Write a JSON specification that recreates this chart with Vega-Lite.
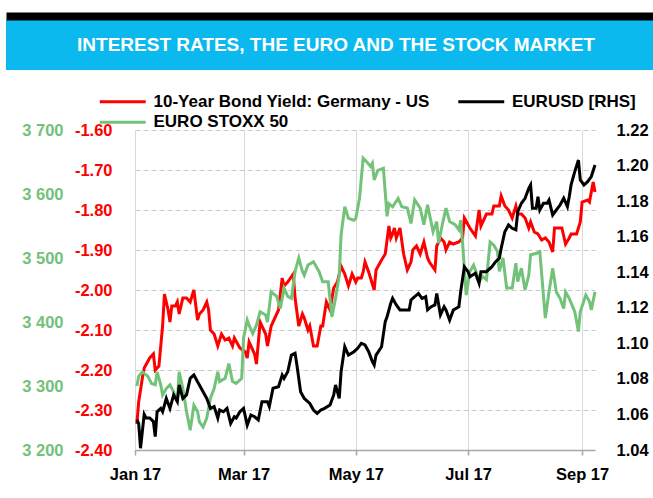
{
  "$schema": "https://vega.github.io/schema/vega-lite/v6.json",
  "padding": {"left": 6, "top": 16, "right": 0, "bottom": 0},
  "background": "white",
  "config": {
    "font": "Liberation Sans",
    "view": {"stroke": null}
  },
  "datasets": {
    "bund": [
      {"date": "2017/01/02", "value": -2.335}, {"date": "2017/01/03", "value": -2.28}, {"date": "2017/01/05", "value": -2.22}, {"date": "2017/01/06", "value": -2.195},
      {"date": "2017/01/09", "value": -2.17}, {"date": "2017/01/11", "value": -2.16}, {"date": "2017/01/12", "value": -2.2}, {"date": "2017/01/14", "value": -2.19},
      {"date": "2017/01/16", "value": -2.09}, {"date": "2017/01/17", "value": -2.01}, {"date": "2017/01/19", "value": -2.05}, {"date": "2017/01/20", "value": -2.08},
      {"date": "2017/01/21", "value": -2.04}, {"date": "2017/01/23", "value": -2.04}, {"date": "2017/01/24", "value": -2.03}, {"date": "2017/01/25", "value": -2.06},
      {"date": "2017/01/27", "value": -2.02}, {"date": "2017/01/29", "value": -2.02}, {"date": "2017/01/31", "value": -2.03}, {"date": "2017/02/02", "value": -2.0},
      {"date": "2017/02/04", "value": -2.075}, {"date": "2017/02/05", "value": -2.06}, {"date": "2017/02/07", "value": -2.05}, {"date": "2017/02/09", "value": -2.03},
      {"date": "2017/02/10", "value": -2.05}, {"date": "2017/02/11", "value": -2.1}, {"date": "2017/02/13", "value": -2.11}, {"date": "2017/02/15", "value": -2.14},
      {"date": "2017/02/17", "value": -2.11}, {"date": "2017/02/19", "value": -2.125}, {"date": "2017/02/21", "value": -2.12}, {"date": "2017/02/23", "value": -2.14},
      {"date": "2017/02/24", "value": -2.12}, {"date": "2017/02/27", "value": -2.145}, {"date": "2017/03/02", "value": -2.155}, {"date": "2017/03/03", "value": -2.17},
      {"date": "2017/03/04", "value": -2.13}, {"date": "2017/03/05", "value": -2.14}, {"date": "2017/03/07", "value": -2.16}, {"date": "2017/03/08", "value": -2.185},
      {"date": "2017/03/10", "value": -2.08}, {"date": "2017/03/13", "value": -2.11}, {"date": "2017/03/14", "value": -2.14}, {"date": "2017/03/16", "value": -2.09},
      {"date": "2017/03/18", "value": -2.07}, {"date": "2017/03/20", "value": -2.05}, {"date": "2017/03/22", "value": -1.97}, {"date": "2017/03/23", "value": -1.99},
      {"date": "2017/03/25", "value": -1.98}, {"date": "2017/03/28", "value": -1.96}, {"date": "2017/03/29", "value": -2.02}, {"date": "2017/03/31", "value": -2.09},
      {"date": "2017/04/02", "value": -2.06}, {"date": "2017/04/03", "value": -2.07}, {"date": "2017/04/05", "value": -2.1}, {"date": "2017/04/06", "value": -2.09},
      {"date": "2017/04/08", "value": -2.14}, {"date": "2017/04/10", "value": -2.14}, {"date": "2017/04/12", "value": -2.09}, {"date": "2017/04/13", "value": -2.09},
      {"date": "2017/04/15", "value": -2.03}, {"date": "2017/04/17", "value": -2.05}, {"date": "2017/04/19", "value": -1.995}, {"date": "2017/04/21", "value": -1.98},
      {"date": "2017/04/23", "value": -1.94}, {"date": "2017/04/25", "value": -1.96}, {"date": "2017/04/27", "value": -1.99}, {"date": "2017/04/29", "value": -1.96},
      {"date": "2017/05/01", "value": -1.98}, {"date": "2017/05/02", "value": -1.97}, {"date": "2017/05/04", "value": -1.97}, {"date": "2017/05/05", "value": -1.955},
      {"date": "2017/05/06", "value": -1.93}, {"date": "2017/05/08", "value": -1.955}, {"date": "2017/05/09", "value": -1.97}, {"date": "2017/05/11", "value": -2.0},
      {"date": "2017/05/12", "value": -1.95}, {"date": "2017/05/15", "value": -1.925}, {"date": "2017/05/17", "value": -1.91}, {"date": "2017/05/19", "value": -1.84},
      {"date": "2017/05/20", "value": -1.87}, {"date": "2017/05/21", "value": -1.86}, {"date": "2017/05/22", "value": -1.845}, {"date": "2017/05/23", "value": -1.87},
      {"date": "2017/05/25", "value": -1.845}, {"date": "2017/05/27", "value": -1.91}, {"date": "2017/05/29", "value": -1.95}, {"date": "2017/05/31", "value": -1.93},
      {"date": "2017/06/01", "value": -1.9}, {"date": "2017/06/03", "value": -1.89}, {"date": "2017/06/05", "value": -1.91}, {"date": "2017/06/07", "value": -1.88},
      {"date": "2017/06/09", "value": -1.92}, {"date": "2017/06/10", "value": -1.93}, {"date": "2017/06/13", "value": -1.95}, {"date": "2017/06/14", "value": -1.89},
      {"date": "2017/06/16", "value": -1.87}, {"date": "2017/06/18", "value": -1.88}, {"date": "2017/06/19", "value": -1.9}, {"date": "2017/06/21", "value": -1.88},
      {"date": "2017/06/23", "value": -1.885}, {"date": "2017/06/26", "value": -1.88}, {"date": "2017/06/28", "value": -1.87}, {"date": "2017/06/29", "value": -1.82},
      {"date": "2017/07/02", "value": -1.845}, {"date": "2017/07/05", "value": -1.865}, {"date": "2017/07/07", "value": -1.8}, {"date": "2017/07/08", "value": -1.84},
      {"date": "2017/07/11", "value": -1.81}, {"date": "2017/07/14", "value": -1.81}, {"date": "2017/07/15", "value": -1.79}, {"date": "2017/07/18", "value": -1.79},
      {"date": "2017/07/19", "value": -1.765}, {"date": "2017/07/21", "value": -1.79}, {"date": "2017/07/23", "value": -1.8}, {"date": "2017/07/25", "value": -1.82},
      {"date": "2017/07/27", "value": -1.79}, {"date": "2017/07/28", "value": -1.81}, {"date": "2017/07/30", "value": -1.81}, {"date": "2017/08/01", "value": -1.82},
      {"date": "2017/08/03", "value": -1.845}, {"date": "2017/08/04", "value": -1.83}, {"date": "2017/08/06", "value": -1.855}, {"date": "2017/08/08", "value": -1.86},
      {"date": "2017/08/10", "value": -1.875}, {"date": "2017/08/12", "value": -1.87}, {"date": "2017/08/14", "value": -1.88}, {"date": "2017/08/16", "value": -1.905},
      {"date": "2017/08/17", "value": -1.845}, {"date": "2017/08/19", "value": -1.845}, {"date": "2017/08/21", "value": -1.845}, {"date": "2017/08/23", "value": -1.885},
      {"date": "2017/08/25", "value": -1.87}, {"date": "2017/08/26", "value": -1.86}, {"date": "2017/08/29", "value": -1.86}, {"date": "2017/08/31", "value": -1.83},
      {"date": "2017/09/01", "value": -1.78}, {"date": "2017/09/04", "value": -1.775}, {"date": "2017/09/05", "value": -1.78}, {"date": "2017/09/07", "value": -1.73},
      {"date": "2017/09/08", "value": -1.755}
    ],
    "eurusd": [
      {"date": "2017/01/02", "value": 1.057}, {"date": "2017/01/03", "value": 1.055}, {"date": "2017/01/04", "value": 1.041}, {"date": "2017/01/06", "value": 1.06},
      {"date": "2017/01/07", "value": 1.058}, {"date": "2017/01/09", "value": 1.058}, {"date": "2017/01/11", "value": 1.056}, {"date": "2017/01/12", "value": 1.0475},
      {"date": "2017/01/13", "value": 1.0615}, {"date": "2017/01/15", "value": 1.0634}, {"date": "2017/01/16", "value": 1.0615}, {"date": "2017/01/18", "value": 1.069},
      {"date": "2017/01/20", "value": 1.0634}, {"date": "2017/01/22", "value": 1.071}, {"date": "2017/01/24", "value": 1.0672}, {"date": "2017/01/25", "value": 1.0766},
      {"date": "2017/01/27", "value": 1.069}, {"date": "2017/01/29", "value": 1.071}, {"date": "2017/01/31", "value": 1.0803}, {"date": "2017/02/02", "value": 1.0822},
      {"date": "2017/02/04", "value": 1.0784}, {"date": "2017/02/05", "value": 1.0766}, {"date": "2017/02/07", "value": 1.0728}, {"date": "2017/02/09", "value": 1.069},
      {"date": "2017/02/11", "value": 1.0634}, {"date": "2017/02/13", "value": 1.0644}, {"date": "2017/02/15", "value": 1.058}, {"date": "2017/02/16", "value": 1.0625},
      {"date": "2017/02/18", "value": 1.0615}, {"date": "2017/02/20", "value": 1.0634}, {"date": "2017/02/22", "value": 1.055}, {"date": "2017/02/24", "value": 1.0587},
      {"date": "2017/02/25", "value": 1.058}, {"date": "2017/02/27", "value": 1.0615}, {"date": "2017/03/01", "value": 1.0634}, {"date": "2017/03/03", "value": 1.054},
      {"date": "2017/03/05", "value": 1.0597}, {"date": "2017/03/07", "value": 1.0587}, {"date": "2017/03/09", "value": 1.0569}, {"date": "2017/03/11", "value": 1.0672},
      {"date": "2017/03/14", "value": 1.0672}, {"date": "2017/03/15", "value": 1.0644}, {"date": "2017/03/17", "value": 1.0747}, {"date": "2017/03/20", "value": 1.0756},
      {"date": "2017/03/22", "value": 1.0822}, {"date": "2017/03/23", "value": 1.0803}, {"date": "2017/03/25", "value": 1.084}, {"date": "2017/03/27", "value": 1.0934},
      {"date": "2017/03/29", "value": 1.0944}, {"date": "2017/03/30", "value": 1.0878}, {"date": "2017/04/01", "value": 1.0728}, {"date": "2017/04/03", "value": 1.069},
      {"date": "2017/04/04", "value": 1.0681}, {"date": "2017/04/06", "value": 1.0662}, {"date": "2017/04/08", "value": 1.0625}, {"date": "2017/04/10", "value": 1.0606},
      {"date": "2017/04/12", "value": 1.0625}, {"date": "2017/04/14", "value": 1.0634}, {"date": "2017/04/17", "value": 1.0653}, {"date": "2017/04/19", "value": 1.071},
      {"date": "2017/04/20", "value": 1.0766}, {"date": "2017/04/22", "value": 1.069}, {"date": "2017/04/23", "value": 1.084}, {"date": "2017/04/25", "value": 1.0981},
      {"date": "2017/04/27", "value": 1.0934}, {"date": "2017/04/30", "value": 1.0953}, {"date": "2017/05/02", "value": 1.0972}, {"date": "2017/05/04", "value": 1.1},
      {"date": "2017/05/06", "value": 1.0991}, {"date": "2017/05/08", "value": 1.0953}, {"date": "2017/05/10", "value": 1.0897}, {"date": "2017/05/11", "value": 1.0878},
      {"date": "2017/05/12", "value": 1.0934}, {"date": "2017/05/15", "value": 1.0981}, {"date": "2017/05/17", "value": 1.1122}, {"date": "2017/05/18", "value": 1.115},
      {"date": "2017/05/20", "value": 1.1225}, {"date": "2017/05/21", "value": 1.1253}, {"date": "2017/05/23", "value": 1.1216}, {"date": "2017/05/25", "value": 1.1188},
      {"date": "2017/05/27", "value": 1.1188}, {"date": "2017/05/30", "value": 1.1188}, {"date": "2017/05/31", "value": 1.1244}, {"date": "2017/06/02", "value": 1.1262},
      {"date": "2017/06/04", "value": 1.1281}, {"date": "2017/06/06", "value": 1.1253}, {"date": "2017/06/08", "value": 1.1262}, {"date": "2017/06/09", "value": 1.1188},
      {"date": "2017/06/11", "value": 1.1206}, {"date": "2017/06/13", "value": 1.1216}, {"date": "2017/06/14", "value": 1.1281}, {"date": "2017/06/16", "value": 1.116},
      {"date": "2017/06/18", "value": 1.1206}, {"date": "2017/06/19", "value": 1.1188}, {"date": "2017/06/21", "value": 1.1131}, {"date": "2017/06/23", "value": 1.1188},
      {"date": "2017/06/26", "value": 1.1206}, {"date": "2017/06/27", "value": 1.129}, {"date": "2017/06/29", "value": 1.1431}, {"date": "2017/07/01", "value": 1.1403},
      {"date": "2017/07/02", "value": 1.1375}, {"date": "2017/07/05", "value": 1.1394}, {"date": "2017/07/07", "value": 1.1338}, {"date": "2017/07/08", "value": 1.1403},
      {"date": "2017/07/11", "value": 1.1403}, {"date": "2017/07/14", "value": 1.1431}, {"date": "2017/07/16", "value": 1.1459}, {"date": "2017/07/18", "value": 1.1478},
      {"date": "2017/07/19", "value": 1.1534}, {"date": "2017/07/21", "value": 1.1628}, {"date": "2017/07/23", "value": 1.1666}, {"date": "2017/07/25", "value": 1.1647},
      {"date": "2017/07/27", "value": 1.1638}, {"date": "2017/07/28", "value": 1.174}, {"date": "2017/07/30", "value": 1.1788}, {"date": "2017/08/01", "value": 1.1816},
      {"date": "2017/08/03", "value": 1.1872}, {"date": "2017/08/04", "value": 1.1891}, {"date": "2017/08/05", "value": 1.176}, {"date": "2017/08/07", "value": 1.176},
      {"date": "2017/08/08", "value": 1.1825}, {"date": "2017/08/09", "value": 1.175}, {"date": "2017/08/11", "value": 1.1788}, {"date": "2017/08/13", "value": 1.1788},
      {"date": "2017/08/14", "value": 1.1806}, {"date": "2017/08/16", "value": 1.1722}, {"date": "2017/08/18", "value": 1.175}, {"date": "2017/08/20", "value": 1.1778},
      {"date": "2017/08/22", "value": 1.1816}, {"date": "2017/08/24", "value": 1.1769}, {"date": "2017/08/25", "value": 1.1825}, {"date": "2017/08/26", "value": 1.1891},
      {"date": "2017/08/28", "value": 1.1966}, {"date": "2017/08/30", "value": 1.2031}, {"date": "2017/08/31", "value": 1.1919}, {"date": "2017/09/02", "value": 1.1891},
      {"date": "2017/09/04", "value": 1.1909}, {"date": "2017/09/06", "value": 1.1938}, {"date": "2017/09/08", "value": 1.2003}
    ],
    "stoxx": [
      {"date": "2017/01/02", "value": 3300}, {"date": "2017/01/03", "value": 3315}, {"date": "2017/01/05", "value": 3322}, {"date": "2017/01/08", "value": 3315},
      {"date": "2017/01/10", "value": 3304}, {"date": "2017/01/12", "value": 3302}, {"date": "2017/01/13", "value": 3322}, {"date": "2017/01/15", "value": 3302},
      {"date": "2017/01/16", "value": 3286}, {"date": "2017/01/18", "value": 3296}, {"date": "2017/01/20", "value": 3302}, {"date": "2017/01/22", "value": 3291},
      {"date": "2017/01/24", "value": 3275}, {"date": "2017/01/25", "value": 3322}, {"date": "2017/01/27", "value": 3296}, {"date": "2017/01/29", "value": 3260},
      {"date": "2017/01/31", "value": 3231}, {"date": "2017/02/02", "value": 3270}, {"date": "2017/02/04", "value": 3260}, {"date": "2017/02/05", "value": 3244},
      {"date": "2017/02/07", "value": 3236}, {"date": "2017/02/09", "value": 3250}, {"date": "2017/02/11", "value": 3281}, {"date": "2017/02/13", "value": 3296},
      {"date": "2017/02/15", "value": 3322}, {"date": "2017/02/16", "value": 3307}, {"date": "2017/02/19", "value": 3312}, {"date": "2017/02/21", "value": 3335},
      {"date": "2017/02/23", "value": 3307}, {"date": "2017/02/25", "value": 3304}, {"date": "2017/02/28", "value": 3312}, {"date": "2017/03/01", "value": 3375},
      {"date": "2017/03/03", "value": 3403}, {"date": "2017/03/04", "value": 3395}, {"date": "2017/03/06", "value": 3382}, {"date": "2017/03/08", "value": 3395},
      {"date": "2017/03/10", "value": 3416}, {"date": "2017/03/13", "value": 3411}, {"date": "2017/03/14", "value": 3400}, {"date": "2017/03/16", "value": 3447},
      {"date": "2017/03/19", "value": 3440}, {"date": "2017/03/21", "value": 3421}, {"date": "2017/03/23", "value": 3453}, {"date": "2017/03/25", "value": 3440},
      {"date": "2017/03/27", "value": 3437}, {"date": "2017/03/29", "value": 3479}, {"date": "2017/03/31", "value": 3500}, {"date": "2017/04/02", "value": 3479},
      {"date": "2017/04/03", "value": 3473}, {"date": "2017/04/05", "value": 3489}, {"date": "2017/04/08", "value": 3494}, {"date": "2017/04/11", "value": 3479},
      {"date": "2017/04/13", "value": 3463}, {"date": "2017/04/16", "value": 3463}, {"date": "2017/04/18", "value": 3408}, {"date": "2017/04/20", "value": 3437},
      {"date": "2017/04/22", "value": 3473}, {"date": "2017/04/23", "value": 3536}, {"date": "2017/04/25", "value": 3580}, {"date": "2017/04/27", "value": 3562},
      {"date": "2017/04/30", "value": 3559}, {"date": "2017/05/01", "value": 3562}, {"date": "2017/05/03", "value": 3593}, {"date": "2017/05/05", "value": 3656},
      {"date": "2017/05/07", "value": 3650}, {"date": "2017/05/09", "value": 3643}, {"date": "2017/05/10", "value": 3648}, {"date": "2017/05/11", "value": 3622},
      {"date": "2017/05/13", "value": 3637}, {"date": "2017/05/16", "value": 3640}, {"date": "2017/05/18", "value": 3565}, {"date": "2017/05/19", "value": 3585},
      {"date": "2017/05/21", "value": 3580}, {"date": "2017/05/24", "value": 3593}, {"date": "2017/05/26", "value": 3580}, {"date": "2017/05/29", "value": 3578},
      {"date": "2017/05/31", "value": 3554}, {"date": "2017/06/02", "value": 3591}, {"date": "2017/06/05", "value": 3578}, {"date": "2017/06/07", "value": 3552},
      {"date": "2017/06/09", "value": 3583}, {"date": "2017/06/12", "value": 3541}, {"date": "2017/06/14", "value": 3557}, {"date": "2017/06/15", "value": 3523},
      {"date": "2017/06/17", "value": 3552}, {"date": "2017/06/19", "value": 3578}, {"date": "2017/06/21", "value": 3557}, {"date": "2017/06/24", "value": 3552},
      {"date": "2017/06/26", "value": 3544}, {"date": "2017/06/27", "value": 3559}, {"date": "2017/06/28", "value": 3525}, {"date": "2017/06/30", "value": 3442},
      {"date": "2017/07/02", "value": 3479}, {"date": "2017/07/04", "value": 3489}, {"date": "2017/07/06", "value": 3473}, {"date": "2017/07/07", "value": 3463},
      {"date": "2017/07/09", "value": 3471}, {"date": "2017/07/11", "value": 3466}, {"date": "2017/07/13", "value": 3525}, {"date": "2017/07/15", "value": 3520},
      {"date": "2017/07/17", "value": 3510}, {"date": "2017/07/18", "value": 3479}, {"date": "2017/07/20", "value": 3500}, {"date": "2017/07/22", "value": 3453},
      {"date": "2017/07/25", "value": 3453}, {"date": "2017/07/27", "value": 3492}, {"date": "2017/07/28", "value": 3463}, {"date": "2017/07/30", "value": 3484},
      {"date": "2017/08/01", "value": 3450}, {"date": "2017/08/03", "value": 3473}, {"date": "2017/08/04", "value": 3505}, {"date": "2017/08/07", "value": 3507},
      {"date": "2017/08/09", "value": 3510}, {"date": "2017/08/12", "value": 3406}, {"date": "2017/08/14", "value": 3447}, {"date": "2017/08/16", "value": 3484},
      {"date": "2017/08/18", "value": 3447}, {"date": "2017/08/20", "value": 3437}, {"date": "2017/08/22", "value": 3421}, {"date": "2017/08/23", "value": 3447},
      {"date": "2017/08/25", "value": 3437}, {"date": "2017/08/28", "value": 3416}, {"date": "2017/08/30", "value": 3385}, {"date": "2017/08/31", "value": 3416},
      {"date": "2017/09/03", "value": 3442}, {"date": "2017/09/05", "value": 3432}, {"date": "2017/09/06", "value": 3419}, {"date": "2017/09/08", "value": 3447}
    ]
  },
  "vconcat": [
    {
      "width": 647, "height": 50,
      "view": {"fill": "#0BB9EE", "stroke": null},
      "data": {"values": [{"label": "INTEREST RATES, THE EURO AND THE STOCK MARKET"}]},
      "mark": {"type": "text", "color": "#FFFFFF", "fontSize": 19, "fontWeight": "bold", "baseline": "middle", "align": "center", "dx": 6.5},
      "encoding": {
        "text": {"field": "label"},
        "x": {
          "field": "label", "type": "nominal",
          "axis": {"orient": "top", "title": null, "labels": false, "ticks": false, "grid": false, "domain": true, "domainColor": "#000000", "domainWidth": 8, "offset": 4}
        }
      }
    },
    {
      "hconcat": [
        {
          "width": 129, "height": 10,
          "data": {"values": [{"label": ""}]},
          "mark": {"type": "text"},
          "encoding": {"text": {"field": "label"}}
        },
        {
          "width": 460, "height": 320,
          "encoding": {
            "x": {
              "field": "date", "type": "temporal",
              "scale": {"domain": [{"year": 2017, "month": 1, "date": 1}, {"year": 2017, "month": 9, "date": 8}]},
              "axis": {
                "title": null,
                "values": [{"year": 2017, "month": 1, "date": 1}, {"year": 2017, "month": 3, "date": 1}, {"year": 2017, "month": 5, "date": 1}, {"year": 2017, "month": 7, "date": 1}, {"year": 2017, "month": 9, "date": 1}],
                "format": "%b %y",
                "grid": true, "gridColor": "#D9D9D9", "gridWidth": 1,
                "domainColor": "#A6A6A6", "domainWidth": 1.5,
                "tickColor": "#A6A6A6", "tickSize": 5, "tickWidth": 1.5,
                "labelPadding": 11, "labelFontSize": 16.5, "labelFontWeight": "bold", "labelColor": "#000000",
                "labelFlush": false, "labelOverlap": false, "labelBound": false
              }
            }
          },
          "layer": [
            {
              "data": {"name": "bund"},
              "mark": {"type": "line", "strokeWidth": 3},
              "encoding": {
                "color": {
                  "datum": "A", "type": "nominal",
                  "scale": {"domain": ["A", "B", "C"], "range": ["#FF0000", "#000000", "#72C27A"]},
                  "legend": {
                    "orient": "none", "legendX": 108.25, "legendY": 73, "columns": 2, "direction": "horizontal", "title": null,
                    "labelExpr": "datum.label === 'A' ? '10-Year Bond Yield: Germany - US' : datum.label === 'B' ? 'EURUSD [RHS]' : 'EURO STOXX 50'",
                    "symbolType": "M-4,0H4", "symbolStrokeWidth": 3, "symbolSize": 132, "symbolFillColor": "transparent",
                    "labelFontSize": 17, "labelFontWeight": "bold", "labelColor": "#000000", "labelLimit": 500,
                    "labelOffset": 22.25, "columnPadding": 21.5, "rowPadding": 2.7, "padding": 0
                  }
                },
                "y": {
                  "field": "value", "type": "quantitative",
                  "scale": {"domain": [-2.4, -1.6], "nice": false, "zero": false},
                  "axis": {
                    "orient": "left", "title": null,
                    "values": [-2.4, -2.3, -2.2, -2.1, -2.0, -1.9, -1.8, -1.7, -1.6],
                    "labelExpr": "replace(format(datum.value, '.2f'), '\u2212', '-')",
                    "grid": true, "gridDash": [5, 3], "gridColor": "#C8C8C8", "gridWidth": 1,
                    "domain": false, "ticks": false, "labelPadding": 23,
                    "labelColor": "#FF0000", "labelFontSize": 16.5, "labelFontWeight": "bold",
                    "labelFlush": false, "labelOverlap": false, "labelBound": false
                  }
                }
              }
            },
            {
              "data": {"name": "stoxx"},
              "mark": {"type": "line", "strokeWidth": 3},
              "encoding": {
                "color": {
                  "datum": "C", "type": "nominal",
                  "scale": {"domain": ["A", "B", "C"], "range": ["#FF0000", "#000000", "#72C27A"]}
                },
                "y": {
                  "field": "value", "type": "quantitative",
                  "scale": {"domain": [3200, 3700], "nice": false, "zero": false},
                  "axis": {
                    "orient": "left", "title": null, "offset": 70,
                    "values": [3200, 3300, 3400, 3500, 3600, 3700],
                    "labelExpr": "replace(format(datum.value, ','), ',', ' ')",
                    "grid": false, "domain": false, "ticks": false, "labelPadding": 2,
                    "labelColor": "#72C27A", "labelFontSize": 16.5, "labelFontWeight": "bold",
                    "labelFlush": false, "labelOverlap": false, "labelBound": false
                  }
                }
              }
            },
            {
              "data": {"name": "eurusd"},
              "mark": {"type": "line", "strokeWidth": 3},
              "encoding": {
                "color": {
                  "datum": "B", "type": "nominal",
                  "scale": {"domain": ["A", "B", "C"], "range": ["#FF0000", "#000000", "#72C27A"]}
                },
                "y": {
                  "field": "value", "type": "quantitative",
                  "scale": {"domain": [1.04, 1.22], "nice": false, "zero": false},
                  "axis": {
                    "orient": "right", "title": null,
                    "values": [1.04, 1.06, 1.08, 1.1, 1.12, 1.14, 1.16, 1.18, 1.2, 1.22],
                    "format": ".2f",
                    "grid": false, "domain": false, "ticks": false, "labelPadding": 21,
                    "labelColor": "#000000", "labelFontSize": 16.5, "labelFontWeight": "bold",
                    "labelFlush": false, "labelOverlap": false, "labelBound": false
                  }
                }
              }
            }
          ],
          "resolve": {"scale": {"y": "independent"}, "axis": {"y": "independent"}}
        }
      ],
      "spacing": 0,
      "bounds": "flush"
    }
  ],
  "spacing": 52
}
